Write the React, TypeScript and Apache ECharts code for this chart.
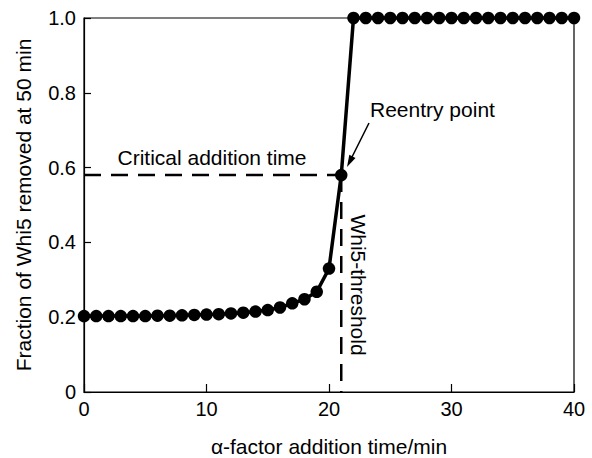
import React, { useEffect, useRef } from "react";
import * as echarts from "echarts";

const additionTimes = [
  0, 1, 2, 3, 4, 5, 6, 7, 8, 9, 10, 11, 12, 13, 14, 15, 16, 17, 18, 19, 20,
  21, 22, 23, 24, 25, 26, 27, 28, 29, 30, 31, 32, 33, 34, 35, 36, 37, 38, 39, 40,
];
const fractionRemoved = [
  0.203, 0.203, 0.203, 0.203, 0.203, 0.203, 0.204, 0.204, 0.205, 0.206, 0.207,
  0.208, 0.21, 0.212, 0.215, 0.219, 0.226, 0.237, 0.248, 0.268, 0.33,
  0.58, 1, 1, 1, 1, 1, 1, 1, 1, 1, 1, 1, 1, 1, 1, 1, 1, 1, 1, 1,
];
const criticalTime = 21;
const criticalFraction = 0.58;
const xTicks = [0, 10, 20, 30, 40];
const yTicks = [0, 0.2, 0.4, 0.6, 0.8, 1.0];

const FONT = "'Liberation Sans', Arial, Helvetica, sans-serif";

export default function App() {
  const ref = useRef<HTMLDivElement>(null);
  useEffect(() => {
    if (!ref.current) return;
    const chart = echarts.init(ref.current, undefined, { renderer: "svg" });
    const dashStyle = { color: "#000", width: 2.5, type: [17, 10] as number[] };
    chart.setOption({
      animation: false,
      backgroundColor: "#fff",
      grid: {
        left: 84,
        right: 18,
        top: 18,
        bottom: 66,
        containLabel: false,
        outerBoundsMode: "none",
        show: true,
        borderColor: "#000",
        borderWidth: 1.2,
        backgroundColor: "transparent",
      },
      xAxis: {
        type: "value",
        min: xTicks[0],
        max: xTicks[xTicks.length - 1],
        interval: 10,
        name: "α-factor addition time/min",
        nameLocation: "middle",
        nameGap: 44,
        nameTextStyle: { fontFamily: FONT, fontSize: 21, lineHeight: 21, color: "#000" },
        axisLine: { lineStyle: { color: "#000", width: 1.2 } },
        axisTick: { inside: true, length: 8, lineStyle: { color: "#000", width: 1.2 } },
        axisLabel: { fontFamily: FONT, fontSize: 20, color: "#000", margin: 7 },
        splitLine: { show: false },
      },
      yAxis: {
        type: "value",
        min: yTicks[0],
        max: yTicks[yTicks.length - 1],
        interval: 0.2,
        name: "Fraction of Whi5 removed at 50 min",
        nameLocation: "middle",
        nameGap: 50,
        nameTextStyle: { fontFamily: FONT, fontSize: 21, color: "#000" },
        axisLine: { show: true, lineStyle: { color: "#000", width: 1.2 } },
        axisTick: { show: true, inside: true, length: 7, lineStyle: { color: "#000", width: 1.2 } },
        axisLabel: {
          fontFamily: FONT,
          fontSize: 20,
          color: "#000",
          margin: 8,
          formatter: (v: number) => (v === 0 ? "0" : v.toFixed(1)),
        },
        splitLine: { show: false },
      },
      series: [
        {
          type: "line",
          data: [
            [additionTimes[0], criticalFraction],
            [criticalTime, criticalFraction],
          ],
          symbol: "none",
          lineStyle: dashStyle,
          z: 1,
          silent: true,
        },
        {
          type: "line",
          data: [
            [criticalTime, criticalFraction],
            [criticalTime, 0],
          ],
          symbol: "none",
          lineStyle: dashStyle,
          z: 1,
          silent: true,
        },
        {
          type: "line",
          data: additionTimes.map((t, i) => [t, fractionRemoved[i]]),
          symbol: "circle",
          symbolSize: 12.5,
          clip: false,
          itemStyle: { color: "#000" },
          lineStyle: { color: "#000", width: 3.5 },
          z: 3,
        },
      ],
      graphic: [
        {
          type: "text",
          x: 212,
          y: 157,
          style: {
            text: "Critical addition time",
            fontFamily: FONT,
            fontSize: 21,
            fill: "#000",
            align: "center",
            verticalAlign: "middle",
          },
        },
        {
          type: "text",
          x: 370,
          y: 109,
          style: {
            text: "Reentry point",
            fontFamily: FONT,
            fontSize: 21,
            fill: "#000",
            align: "left",
            verticalAlign: "middle",
          },
        },
        {
          type: "text",
          x: 358,
          y: 285,
          rotation: -Math.PI / 2,
          style: {
            text: "Whi5-threshold",
            fontFamily: FONT,
            fontSize: 21,
            fill: "#000",
            align: "center",
            verticalAlign: "middle",
          },
        },
        {
          type: "line",
          shape: { x1: 369, y1: 123, x2: 352, y2: 157 },
          style: { stroke: "#000", lineWidth: 1.5 },
        },
        {
          type: "polygon",
          shape: {
            points: [
              [347, 167],
              [355.5, 157.9],
              [349.3, 154.7],
            ],
          },
          style: { fill: "#000" },
        },
      ],
    });
    return () => chart.dispose();
  }, []);
  return <div ref={ref} style={{ width: 592, height: 458, position: "absolute", left: 0, top: 0 }} />;
}
